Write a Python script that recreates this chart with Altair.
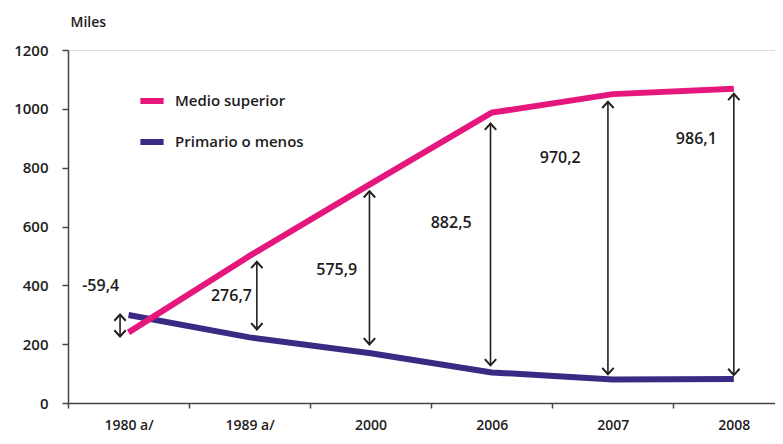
import altair as alt
import pandas as pd

categories = ["1980 a/", "1989 a/", "2000", "2006", "2007", "2008"]
medio_superior = [240, 500, 745, 987, 1050, 1068]
primario_o_menos = [299, 223, 169, 104, 80, 82]

# difference annotations (arrows + labels)
diff_labels = ["-59,4", "276,7", "575,9", "882,5", "970,2", "986,1"]
arrow_pos = [-0.07, 1.06, 1.99, 2.99, 3.96, 5.0]
arrow_top = [301, 480, 720, 950, 1024, 1051]
arrow_bottom = [226, 250, 199, 128, 98, 95]
label_pos = [-0.23, 0.85, 1.72, 2.665, 3.566, 4.69]
label_val = [399, 365, 453, 612, 832, 899]

series_names = ["Medio superior", "Primario o menos"]
colors = ["#E5177D", "#3A2A84"]

rows = []
for i, c in enumerate(categories):
    rows.append({"idx": i, "cat": c, "serie": "Primario o menos", "valor": primario_o_menos[i]})
for i, c in enumerate(categories):
    rows.append({"idx": i, "cat": c, "serie": "Medio superior", "valor": medio_superior[i]})
df = pd.DataFrame(rows)

arrows = pd.DataFrame({"pos": arrow_pos, "top": arrow_top, "bottom": arrow_bottom})
labels = pd.DataFrame({"pos": label_pos, "val": label_val, "txt": diff_labels})

FONT = "Open Sans"
TXT = "#1E1C1D"

cat_expr = "[" + ",".join("'" + c + "'" for c in categories) + "][round(datum.value + 0.5)]"

xscale = alt.Scale(domain=[-0.5, 5.34], nice=False, zero=False)
yscale = alt.Scale(domain=[0, 1200], nice=False)

x_axis = alt.Axis(
    values=[-0.5, 0.5, 1.5, 2.5, 3.5, 4.5],
    labelExpr=cat_expr,
    labelOffset=60.5,
    labelAlign="center",
    title=None,
    grid=False,
    tickSize=5,
    labelPadding=10,
    labelFontSize=14,
    labelFont=FONT,
    labelFontWeight=600,
    labelColor=TXT,
    domainColor="#444",
    tickColor="#444",
    domainWidth=1.5,
    tickWidth=1.5,
)
y_axis = alt.Axis(
    values=[0, 200, 400, 600, 800, 1000, 1200],
    format="d",
    title="Miles",
    titleAngle=0,
    titleAlign="left",
    titleBaseline="alphabetic",
    titleX=2,
    titleY=-24,
    titleFontSize=14,
    titleFont=FONT,
    titleFontWeight=600,
    titleColor=TXT,
    grid=False,
    tickSize=6,
    labelPadding=14,
    labelFontSize=15,
    labelFont=FONT,
    labelFontWeight=600,
    labelColor=TXT,
    domainColor="#444",
    tickColor="#444",
    domainWidth=1.5,
    tickWidth=1.5,
)

lines = alt.Chart(df).mark_line(strokeWidth=6).encode(
    x=alt.X("idx:Q", scale=xscale, axis=x_axis),
    y=alt.Y("valor:Q", scale=yscale, axis=y_axis),
    color=alt.Color(
        "serie:N",
        scale=alt.Scale(domain=series_names, range=colors),
        legend=alt.Legend(
            title=None,
            orient="none",
            legendX=69,
            legendY=36,
            symbolType="stroke",
            symbolSize=540,
            symbolStrokeWidth=6,
            labelFontSize=15,
            labelFont=FONT,
            labelFontWeight=600,
            labelColor=TXT,
            labelOffset=8,
            rowPadding=14,
        ),
    ),
    detail="serie:N",
)

rules = alt.Chart(arrows).mark_rule(color="#231F20", strokeWidth=1.6).encode(
    x=alt.X("pos:Q", scale=xscale),
    y=alt.Y("top:Q", scale=yscale),
    y2="bottom:Q",
)
heads_top = alt.Chart(arrows).mark_point(
    shape="M-1,1.1L0,0L1,1.1", filled=False, color="#231F20", strokeWidth=2, size=130, opacity=1
).encode(x=alt.X("pos:Q", scale=xscale), y=alt.Y("top:Q", scale=yscale))
heads_bot = alt.Chart(arrows).mark_point(
    shape="M-1,-1.1L0,0L1,-1.1", filled=False, color="#231F20", strokeWidth=2, size=130, opacity=1
).encode(x=alt.X("pos:Q", scale=xscale), y=alt.Y("bottom:Q", scale=yscale))

texts = alt.Chart(labels).mark_text(
    fontSize=16, font=FONT, fontWeight=600, color=TXT, align="center", baseline="middle"
).encode(
    x=alt.X("pos:Q", scale=xscale),
    y=alt.Y("val:Q", scale=yscale),
    text="txt:N",
)

chart = alt.layer(lines, rules, heads_top, heads_bot, texts).properties(
    width=707,
    height=353,
    autosize=alt.AutoSizeParams(type="none"),
    padding={"left": 60, "top": 42, "right": 0, "bottom": 33},
).configure_view(stroke=None).configure(background="white")

chart.save("out.html", embed_options={"renderer": "svg", "actions": False})
